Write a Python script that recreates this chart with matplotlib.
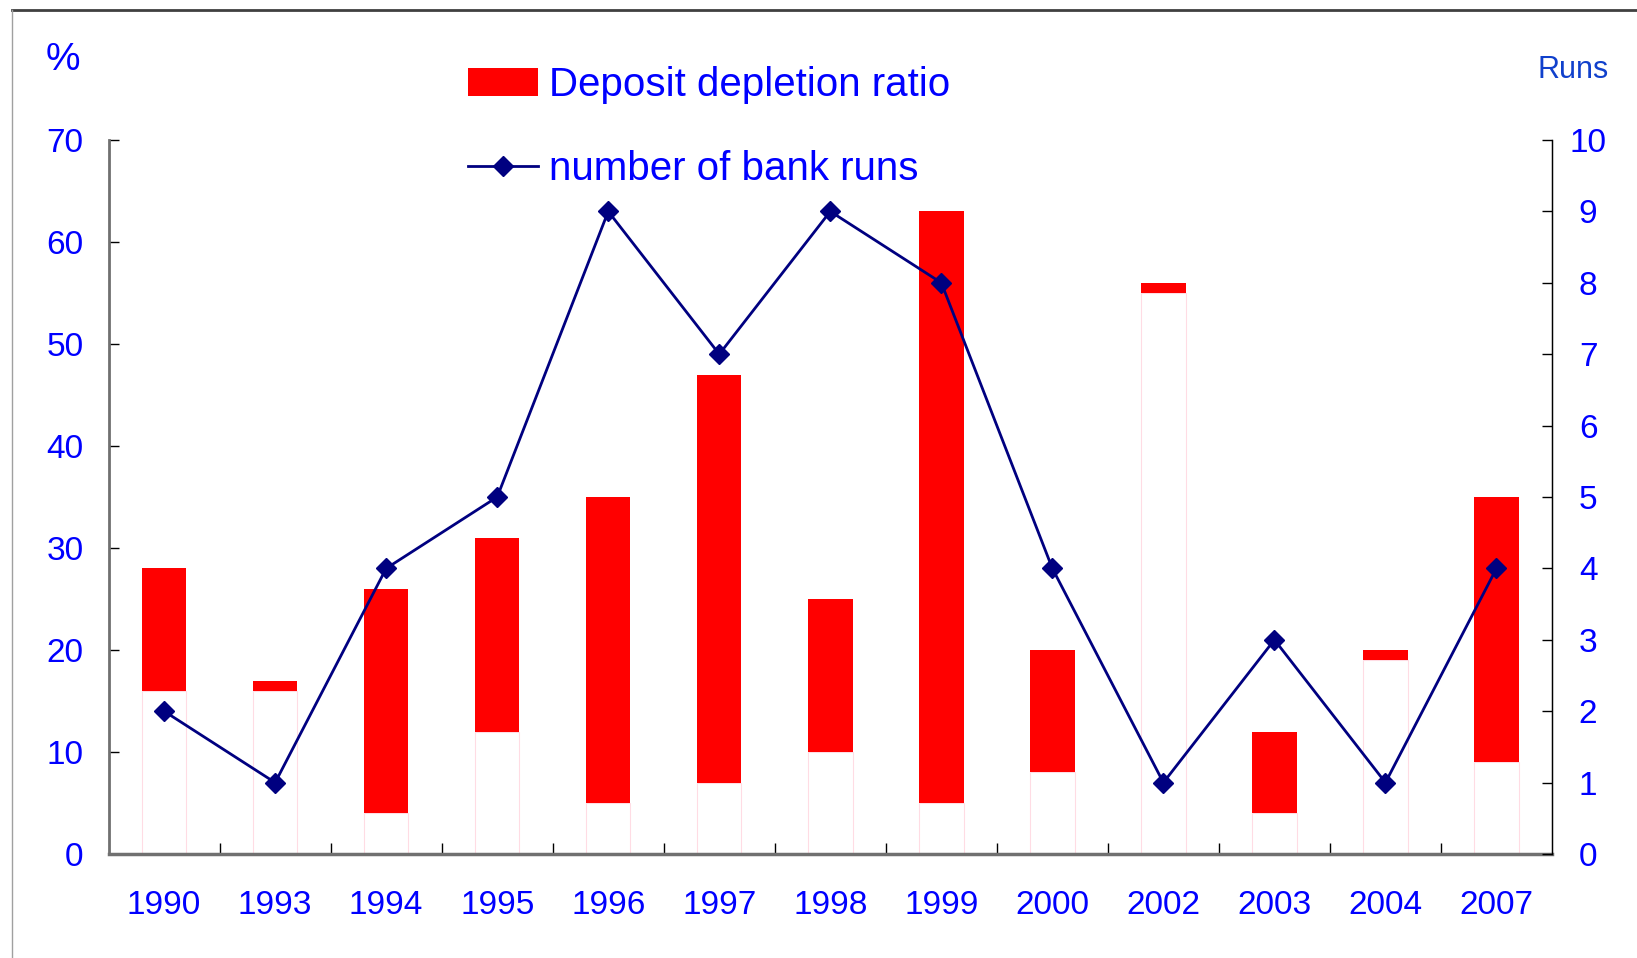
import numpy as np
import matplotlib
matplotlib.use('Agg')
import matplotlib.pyplot as plt
from matplotlib.lines import Line2D
from matplotlib.patches import Patch

plt.rcParams['font.family'] = ['Liberation Sans', 'DejaVu Sans']

# data
years = ['1990', '1993', '1994', '1995', '1996', '1997', '1998',
         '1999', '2000', '2002', '2003', '2004', '2007']
ratio_low = [16, 16, 4, 12, 5, 7, 10, 5, 8, 55, 4, 19, 9]
ratio_high = [28, 17, 26, 31, 35, 47, 25, 63, 20, 56, 12, 20, 35]
bank_runs = [2, 1, 4, 5, 9, 7, 9, 8, 4, 1, 3, 1, 4]

W, H = 1637, 958
fig = plt.figure(figsize=(W / 100, H / 100), dpi=100)
ax = fig.add_axes([108.6 / W, 1 - 854 / H, (1552 - 108.6) / W, (854 - 140) / H])
ax2 = ax.twinx()

blue = '#0000FF'
x = np.arange(len(years))
low = np.array(ratio_low)
span = np.array(ratio_high) - low

# invisible base bars leave faint pink outlines, red part floats on top
ax.bar(x, low, width=0.4, facecolor='none', edgecolor='#FFDCE4', linewidth=0.8)
ax.bar(x, span, bottom=low, width=0.4, color='#FF0000', linewidth=0)

ax2.plot(x, bank_runs, color='#000080', lw=2, marker='D', markersize=10)

ax.set_xlim(-0.5, len(years) - 0.5)
ax.set_ylim(0, 70)
ax2.set_ylim(0, 10)
ax.set_yticks(range(0, 71, 10))
ax2.set_yticks(range(0, 11))

ax.set_xticks(x)
ax.set_xticklabels(years)
ax.set_xticks(np.arange(0.5, len(years) - 0.5), minor=True)
ax.tick_params(axis='x', which='major', length=0, pad=26, labelsize=24, labelcolor=blue)
ax.tick_params(axis='x', which='minor', direction='in', length=8, width=1, color='black')
ax.tick_params(axis='y', direction='in', length=7, width=1, pad=18, labelsize=24, labelcolor=blue)
ax2.tick_params(axis='y', direction='in', length=7, width=1, pad=26, labelsize=24, labelcolor=blue)
for t in ax2.get_yticklabels():
    t.set_ha('center')

ax.spines['top'].set_visible(False)
ax2.spines['top'].set_visible(False)
ax.spines['bottom'].set_color('#707070')
ax.spines['bottom'].set_linewidth(2.5)
ax.spines['left'].set_color('#707070')
ax.spines['left'].set_linewidth(2)
ax2.spines['bottom'].set_visible(False)
ax2.spines['left'].set_visible(False)
ax2.spines['right'].set_color('black')
ax2.spines['right'].set_linewidth(1)

fig.text(63 / W, 1 - 60 / H, '%', color=blue, fontsize=28, ha='center', va='center')
fig.text(1573 / W, 1 - 70 / H, 'Runs', color='#1040CC', fontsize=22, ha='center', va='center')

handles = [Patch(facecolor='#FF0000', edgecolor='none'),
           Line2D([], [], color='#000080', lw=2, marker='D', markersize=10)]
fig.legend(handles, ['Deposit depletion ratio', 'number of bank runs'],
           loc='upper left', bbox_to_anchor=(468 / W, 1 - 66 / H),
           frameon=False, fontsize=29, labelcolor=blue, handlelength=1.75,
           handletextpad=0.25, labelspacing=1.15, borderpad=0, borderaxespad=0)

# outer frame of the original figure
fig.add_artist(Line2D([12 / W, 1], [1 - 10 / H, 1 - 10 / H], color='#404040', lw=2))
fig.add_artist(Line2D([12 / W, 12 / W], [0, 1 - 10 / H], color='#A0A0A0', lw=1))

fig.savefig('out.png', dpi=100)
